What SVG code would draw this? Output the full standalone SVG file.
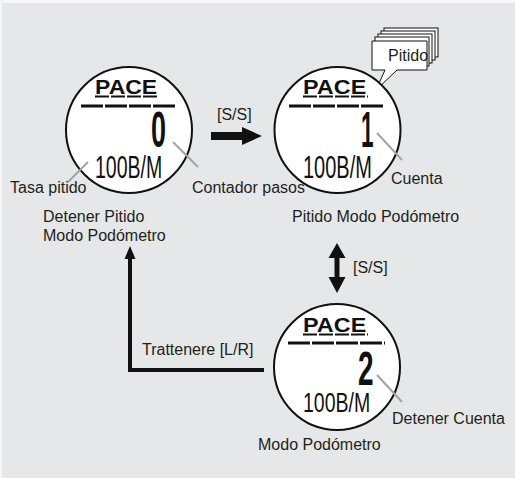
<svg xmlns="http://www.w3.org/2000/svg" width="515" height="478" viewBox="0 0 515 478">
<style>
.lbl{font-family:"Liberation Sans",Arial,sans-serif;font-size:16px;fill:#231f20}
.face{fill:#ffffff;stroke:#111;stroke-width:2}
.lcd{font-family:"Liberation Sans",Arial,sans-serif;fill:#111}
.pace{font-size:20px;font-weight:bold}
.bpm{font-size:31px}
.dig{font-size:50px;font-weight:bold}
.ul{stroke:#111;stroke-width:2;stroke-dasharray:14 2}
.bar{stroke:#111;stroke-width:3;stroke-dasharray:22 2}
.lead{stroke:#a3a3a3;stroke-width:2}
.conn{fill:#111;stroke:none}
.bub{fill:#fff;stroke:#111;stroke-width:1}
</style>
<rect x="0" y="0" width="515" height="478" fill="#f6f6f6"/>
<rect x="2" y="3" width="513" height="475" fill="#e6e7e8"/>

<g id="node-stop-beep">
<circle class="face" cx="129" cy="130" r="63"/>
<text class="lcd pace" transform="translate(95,94) scale(1.15,1)">PACE</text>
<line class="ul" x1="95" y1="96.5" x2="159" y2="96.5"/>
<line class="bar" x1="81" y1="106" x2="176" y2="106"/>
<text class="lcd dig" transform="translate(151,147) scale(0.54,1)">0</text>
<text class="lcd bpm" transform="translate(95,178) scale(0.63,1)">100B/M</text>
<line class="lead" x1="88" y1="162" x2="68" y2="182"/>
<line class="lead" x1="173" y1="142" x2="198" y2="167"/>
<text class="lbl" x="10" y="193">Tasa pitido</text>
<text class="lbl" x="192" y="193">Contador pasos</text>
<text class="lbl" x="43" y="222">Detener Pitido</text>
<text class="lbl" x="43" y="241">Modo Podómetro</text>
</g>

<g id="node-beep">
<rect class="bub" x="384" y="28" width="54" height="29"/>
<rect class="bub" x="381" y="31" width="54" height="29"/>
<rect class="bub" x="378" y="34" width="54" height="29"/>
<rect class="bub" x="375" y="37" width="54" height="29"/>
<path class="bub" d="M372,41 H427 V70 H397 L376,90 L385,70 H372 Z"/>
<text class="lbl" x="388" y="61">Pitido</text>
<circle class="face" cx="337.5" cy="130" r="63"/>
<text class="lcd pace" transform="translate(303,94) scale(1.17,1)">PACE</text>
<line class="ul" x1="303" y1="96.5" x2="368" y2="96.5"/>
<line class="bar" x1="289" y1="106" x2="385" y2="106"/>
<text class="lcd dig" transform="translate(361,147) scale(0.45,1)">1</text>
<text class="lcd bpm" transform="translate(303,178) scale(0.645,1)">100B/M</text>
<line class="lead" x1="377" y1="133" x2="402" y2="160"/>
<text class="lbl" x="391" y="184">Cuenta</text>
<text class="lbl" x="292" y="222">Pitido Modo Podómetro</text>
</g>

<g id="node-pedometer">
<circle class="face" cx="337" cy="367" r="63"/>
<text class="lcd pace" transform="translate(303,332) scale(1.17,1)">PACE</text>
<line class="ul" x1="303" y1="334.5" x2="368" y2="334.5"/>
<line class="bar" x1="288" y1="343" x2="385" y2="343"/>
<text class="lcd dig" transform="translate(358,385) scale(0.56,0.95)">2</text>
<text class="lcd bpm" transform="translate(303,412) scale(0.63,0.9)">100B/M</text>
<line class="lead" x1="377" y1="375" x2="402" y2="402"/>
<text class="lbl" x="392" y="424">Detener Cuenta</text>
<text class="lbl" x="258" y="450">Modo Podómetro</text>
</g>

<g id="connectors">
<rect class="conn" x="211" y="132" width="32" height="8"/>
<polygon class="conn" points="242,127 262,136 242,145"/>
<text class="lbl" x="217" y="120">[S/S]</text>
<rect class="conn" x="334.5" y="256" width="5" height="23"/>
<polygon class="conn" points="328.5,258 337,243 345.5,258"/>
<polygon class="conn" points="328.5,277 337,293 345.5,277"/>
<text class="lbl" x="353" y="273">[S/S]</text>
<polyline points="264,370 130,370 130,256" fill="none" stroke="#111" stroke-width="4"/>
<polygon class="conn" points="124.5,259 130,246 135.5,259"/>
<text class="lbl" x="142" y="355">Trattenere [L/R]</text>
</g>
</svg>
